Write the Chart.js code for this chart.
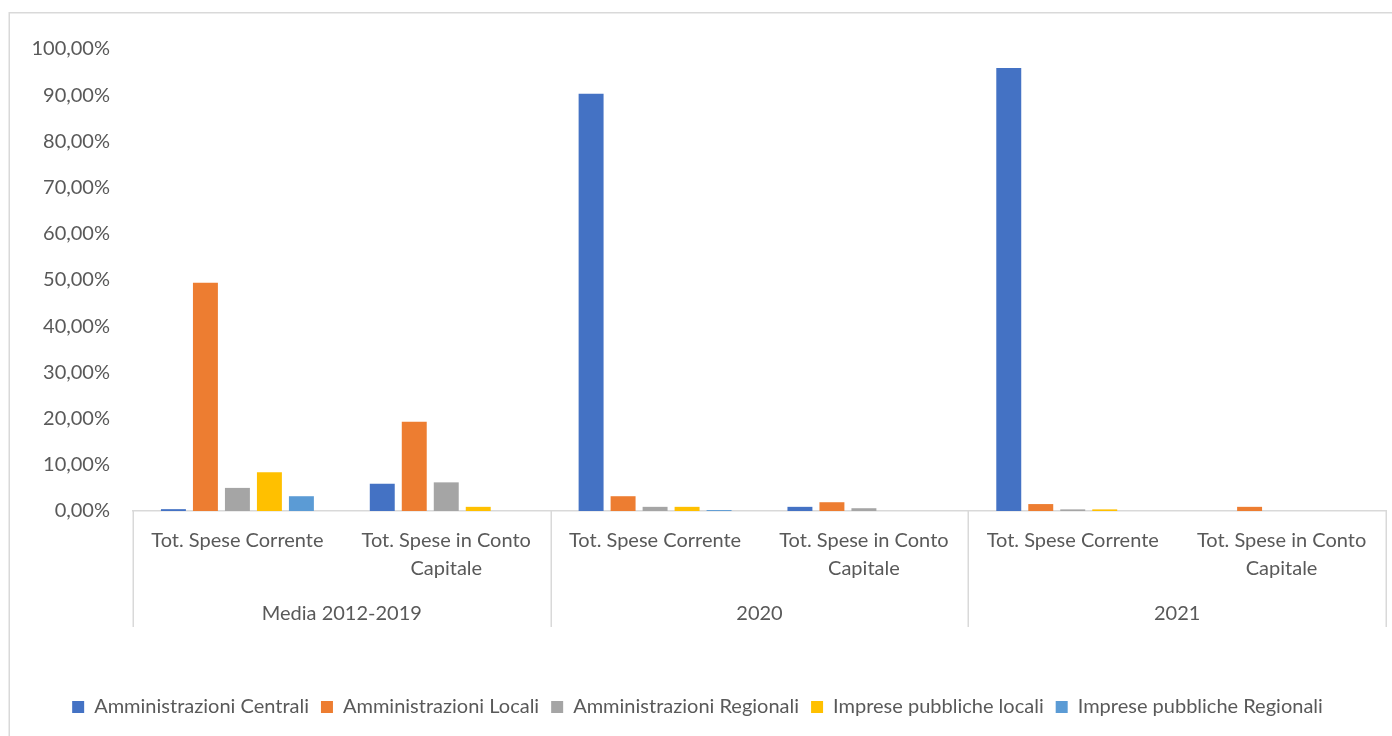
<!DOCTYPE html>
<html>
<head>
<meta charset="utf-8">
<style>
  html, body { margin: 0; padding: 0; background: #ffffff; }
  #wrap { width: 1392px; height: 736px; position: relative; }
</style>
<script src="https://cdn.jsdelivr.net/npm/chart.js@4/dist/chart.umd.min.js"></script>
</head>
<body>
<div id="wrap"><canvas id="chart" width="1392" height="736"></canvas></div>
<script>
// Sub-categories (inner axis level) and period groups (outer level)
const categories = [
  'Tot. Spese Corrente', ['Tot. Spese in Conto', 'Capitale'],
  'Tot. Spese Corrente', ['Tot. Spese in Conto', 'Capitale'],
  'Tot. Spese Corrente', ['Tot. Spese in Conto', 'Capitale']
];
const groups = ['Media 2012-2019', '2020', '2021'];

// Share of spending by sector, in percent
const amministrazioniCentrali   = [0.4, 5.9, 90.3, 0.9, 95.9, 0];
const amministrazioniLocali     = [49.4, 19.3, 3.2, 1.9, 1.5, 0.9];
const amministrazioniRegionali  = [5.0, 6.2, 0.9, 0.6, 0.35, 0];
const impresePubblicheLocali    = [8.4, 0.9, 0.9, 0, 0.35, 0];
const impresePubblicheRegionali = [3.2, 0, 0.2, 0, 0, 0];

const yTicks = [0, 10, 20, 30, 40, 50, 60, 70, 80, 90, 100];

const FONT = 'Lato, "Open Sans", sans-serif';
const FONT_SIZE = 20;
const TEXT = '#595959';
const LINE = '#d9d9d9';

const fmtPct = v => v.toFixed(2).replace('.', ',') + '%';

// Outer frame plus the group labels and separators of the two-level axis
const decorations = {
  id: 'decorations',
  beforeDraw(chart) {
    const ctx = chart.ctx;
    ctx.save();
    ctx.strokeStyle = LINE;
    ctx.lineWidth = 1.5;
    ctx.strokeRect(9.25, 12.75, 1400, 740);
    ctx.restore();
  },
  afterDraw(chart) {
    const ctx = chart.ctx;
    const x = chart.scales.x;
    const area = chart.chartArea;
    const n = categories.length;
    const step = (x.right - x.left) / n;
    const perGroup = n / groups.length;
    ctx.save();
    ctx.strokeStyle = LINE;
    ctx.lineWidth = 1.5;
    for (let g = 0; g <= groups.length; g++) {
      const px = Math.round(x.left + g * perGroup * step) + 0.25;
      ctx.beginPath();
      ctx.moveTo(px, area.bottom);
      ctx.lineTo(px, area.bottom + 116);
      ctx.stroke();
    }
    ctx.fillStyle = TEXT;
    ctx.font = FONT_SIZE + 'px ' + FONT;
    ctx.textAlign = 'center';
    ctx.textBaseline = 'middle';
    groups.forEach((label, g) => {
      const a = x.getPixelForValue(g * perGroup);
      const b = x.getPixelForValue(g * perGroup + perGroup - 1);
      ctx.fillText(label, (a + b) / 2, area.bottom + 103);
    });
    ctx.restore();
  }
};

const mk = (label, data, color) => ({
  label, data, backgroundColor: color, borderWidth: 0,
  categoryPercentage: 0.766, barPercentage: 0.78
});

new Chart(document.getElementById('chart'), {
  type: 'bar',
  data: {
    labels: categories,
    datasets: [
      mk('Amministrazioni Centrali', amministrazioniCentrali, '#4472C4'),
      mk('Amministrazioni Locali', amministrazioniLocali, '#ED7D31'),
      mk('Amministrazioni Regionali', amministrazioniRegionali, '#A5A5A5'),
      mk('Imprese pubbliche locali', impresePubblicheLocali, '#FFC000'),
      mk('Imprese pubbliche Regionali', impresePubblicheRegionali, '#5B9BD5')
    ]
  },
  options: {
    responsive: false,
    animation: false,
    layout: { padding: { top: 49, left: 9, right: 6, bottom: 9 } },
    plugins: {
      tooltip: { enabled: false },
      legend: {
        position: 'bottom',
        labels: {
          boxWidth: 12, boxHeight: 12, padding: 12,
          color: TEXT, font: { family: FONT, size: FONT_SIZE }
        }
      }
    },
    scales: {
      x: {
        grid: { display: false, drawTicks: false },
        border: { display: true, color: LINE, width: 1.5 },
        ticks: {
          color: TEXT, padding: 16, maxRotation: 0, autoSkip: false,
          font: { family: FONT, size: FONT_SIZE, lineHeight: 1.4 }
        },
        afterFit(scale) { scale.height = 174; }
      },
      y: {
        min: 0, max: 100,
        grid: { display: false, drawTicks: false },
        border: { display: false },
        afterBuildTicks(scale) { scale.ticks = yTicks.map(v => ({ value: v })); },
        afterFit(scale) { scale.width = 124; },
        ticks: {
          color: TEXT, padding: 23,
          font: { family: FONT, size: FONT_SIZE },
          callback: v => fmtPct(v)
        }
      }
    }
  },
  plugins: [decorations]
});
</script>
</body>
</html>
